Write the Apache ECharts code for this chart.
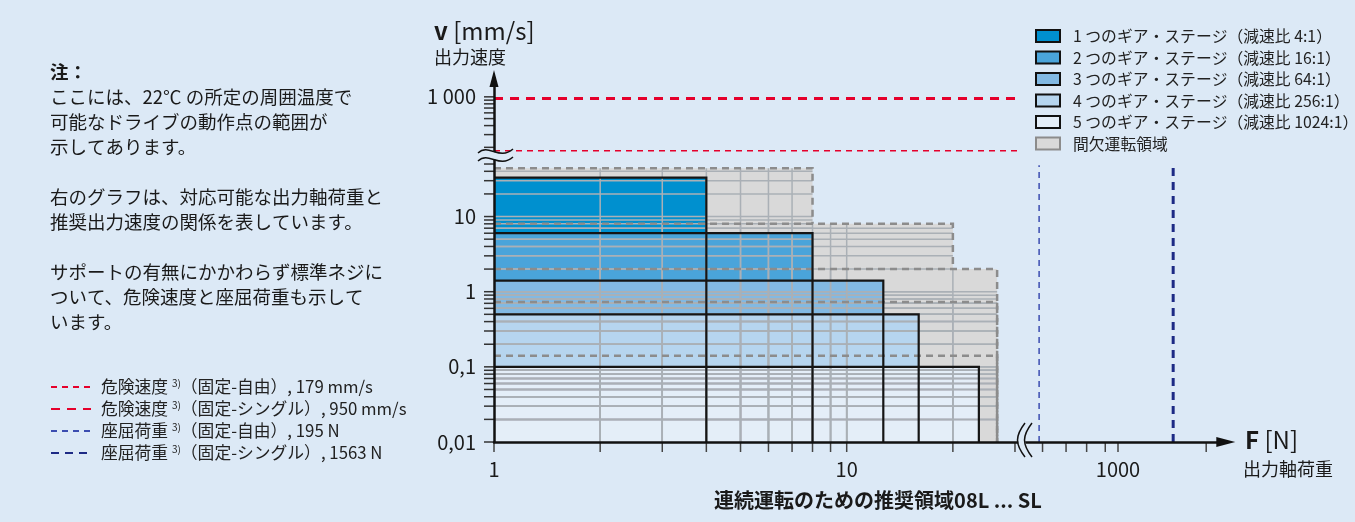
<!DOCTYPE html>
<html>
<head>
<meta charset="utf-8">
<script src="https://cdn.jsdelivr.net/npm/echarts@6/dist/echarts.min.js"></script>
<style>
  html, body { margin: 0; padding: 0; background: #dce9f6; }
  #chart { width: 1355px; height: 522px; }
</style>
</head>
<body>
<div id="chart"></div>
<script>
const FONT = "'Noto Sans CJK JP', 'Noto Sans', sans-serif";
const INK = '#1a1a1a';
const BG = '#dce9f6';

// ギア・ステージ
const stageNames = [
    '1 つのギア・ステージ（減速比 4:1）',
    '2 つのギア・ステージ（減速比 16:1）',
    '3 つのギア・ステージ（減速比 64:1）',
    '4 つのギア・ステージ（減速比 256:1）',
    '5 つのギア・ステージ（減速比 1024:1）'
];
const stageColors = ['#0090cf', '#4aa4da', '#82b9e3', '#b6d5ef', '#e4eef8'];
const intName = '間欠運転領域';

// 連続運転の推奨領域 (F [N], v [mm/s] の上限)
const contForce = [4, 8, 12.7, 16, 23.7];
const contSpeed = [33, 6, 1.4, 0.5, 0.1];
// 間欠運転領域の上限
const intForce = [8, 20, 26.7, 26.7, 26.7];
const intSpeed = [44, 8, 2, 0.73, 0.14];

// 危険速度 [mm/s] と座屈荷重 [N]
const critSpeed = [179, 950];
const buckleLoad = [195, 1563];

// 目盛
const yTicks = [0.01, 0.02, 0.03, 0.04, 0.05, 0.06, 0.07, 0.08, 0.09,
    0.1, 0.2, 0.3, 0.4, 0.5, 0.6, 0.7, 0.8, 0.9,
    1, 2, 3, 4, 5, 6, 7, 8, 9, 10, 20, 30, 40, 50];
const yTicksTop = [200, 300, 400, 500, 600, 700, 800, 900, 1000];
const xTicks = [1, 2, 3, 4, 5, 6, 7, 8, 9, 10, 20, 30];
const xTicksRight = [230, 470, 680, 870, 1000, 1900];
const yLabels = { '-2': '0,01', '-1': '0,1', '0': '1', '1': '10' };
const xLabels = { '0': '1', '1': '10' };

// 軸の範囲
const xMin = 1, xMax = 31;
const yMin = 0.01, yMax = 62;
const yTopMin = 147, yTopMax = 1800;
const xRightMax = 2100;
const buckleTop = 48;

const yGrid = yTicks.filter(v => v > yMin);
const xGrid = xTicks.filter(v => v > xMin);

function powLabel(map) {
    return function (v) {
        const e = Math.log10(v);
        if (Math.abs(e - Math.round(e)) > 1e-6) return '';
        return map[String(Math.round(e))] || '';
    };
}

const axisLineStyle = { color: '#111', width: 2.5 };
const labelStyle = { color: INK, fontSize: 20, fontFamily: FONT };

// 領域の塗り
function boxFrom(api, color) {
    const o = api.coord([xMin, yMin]);
    const c = api.coord([api.value(0), api.value(1)]);
    return {
        type: 'rect',
        shape: { x: o[0], y: c[1], width: c[0] - o[0], height: o[1] - c[1] },
        style: { fill: color }
    };
}

// 領域内の補助線
function renderGrid(params, api) {
    const F = api.value(0), V = api.value(1);
    const style = { stroke: '#aab0b6', lineWidth: 1.5 };
    const children = [];
    yGrid.forEach(v => {
        if (v < V) {
            const a = api.coord([xMin, v]), b = api.coord([F, v]);
            children.push({ type: 'line', shape: { x1: a[0], y1: a[1], x2: b[0], y2: b[1] }, style: style });
        }
    });
    xGrid.forEach(f => {
        if (f < F) {
            const a = api.coord([f, yMin]), b = api.coord([f, V]);
            children.push({ type: 'line', shape: { x1: a[0], y1: a[1], x2: b[0], y2: b[1] }, style: style });
        }
    });
    return { type: 'group', children: children };
}

// 間欠運転領域の破線の枠
function renderIntBorder(params, api) {
    const F = api.value(0), V = api.value(1);
    let low = yMin;
    intForce.forEach((f, j) => { if (f > F && intSpeed[j] > low) low = intSpeed[j]; });
    const a = api.coord([xMin, V]), b = api.coord([F, V]), c = api.coord([F, low]);
    return {
        type: 'polyline',
        shape: { points: [a, b, c] },
        style: { stroke: '#8c8c8c', lineWidth: 2.5, lineDash: [7, 5], fill: null }
    };
}

// 連続運転領域の枠
function renderContBorder(params, api) {
    const F = api.value(0), V = api.value(1);
    const a = api.coord([xMin, V]), b = api.coord([F, V]), c = api.coord([F, yMin]);
    return {
        type: 'polyline',
        shape: { points: [a, b, c] },
        style: { stroke: '#151515', lineWidth: 2.2, fill: null }
    };
}

function renderYTick(params, api) {
    const p = api.coord([api.value(0), api.value(1)]);
    return { type: 'line', shape: { x1: p[0] - 10, y1: p[1], x2: p[0], y2: p[1] }, style: { stroke: '#333', lineWidth: 1.5 } };
}
function renderXTick(params, api) {
    const p = api.coord([api.value(0), api.value(1)]);
    return { type: 'line', shape: { x1: p[0], y1: p[1], x2: p[0], y2: p[1] + 10 }, style: { stroke: '#444', lineWidth: 1.5 } };
}

const series = [];
series.push({
    name: intName, type: 'custom', xAxisIndex: 0, yAxisIndex: 0, z: 1, clip: false,
    itemStyle: { color: '#d9d9d9', borderColor: '#8c8c8c', borderWidth: 2, borderType: 'dashed' },
    data: intForce.map((f, i) => [f, intSpeed[i]]),
    renderItem: (params, api) => boxFrom(api, '#d9d9d9')
});
stageNames.forEach((n, i) => {
    series.push({
        name: n, type: 'custom', xAxisIndex: 0, yAxisIndex: 0, z: 2, clip: false,
        itemStyle: { color: stageColors[i], borderColor: '#111', borderWidth: 2 },
        data: [[contForce[i], contSpeed[i]]],
        renderItem: (params, api) => boxFrom(api, stageColors[i])
    });
});
series.push({
    type: 'custom', xAxisIndex: 0, yAxisIndex: 0, z: 3, clip: false, silent: true,
    data: intForce.map((f, i) => [f, intSpeed[i]]),
    renderItem: renderGrid
});
series.push({
    type: 'custom', xAxisIndex: 0, yAxisIndex: 0, z: 4, clip: false, silent: true,
    data: intForce.map((f, i) => [f, intSpeed[i]]),
    renderItem: renderIntBorder
});
series.push({
    type: 'custom', xAxisIndex: 0, yAxisIndex: 0, z: 5, clip: false, silent: true,
    data: contForce.map((f, i) => [f, contSpeed[i]]),
    renderItem: renderContBorder
});
// 目盛線
series.push({ type: 'custom', xAxisIndex: 0, yAxisIndex: 0, z: 6, clip: false, silent: true,
    data: yTicks.map(v => [xMin, v]), renderItem: renderYTick });
series.push({ type: 'custom', xAxisIndex: 1, yAxisIndex: 1, z: 6, clip: false, silent: true,
    data: yTicksTop.map(v => [xMin, v]), renderItem: renderYTick });
series.push({ type: 'custom', xAxisIndex: 0, yAxisIndex: 0, z: 6, clip: false, silent: true,
    data: xTicks.map(v => [v, yMin]), renderItem: renderXTick });
series.push({ type: 'custom', xAxisIndex: 2, yAxisIndex: 2, z: 6, clip: false, silent: true,
    data: xTicksRight.map(v => [v, yMin]), renderItem: renderXTick });

// 危険速度・座屈荷重
const lineNames = [
    `危険速度 3)（固定-自由）, ${critSpeed[0]} mm/s`,
    `危険速度 3)（固定-シングル）, ${critSpeed[1]} mm/s`,
    `座屈荷重 3)（固定-自由）, ${buckleLoad[0]} N`,
    `座屈荷重 3)（固定-シングル）, ${buckleLoad[1]} N`
];
const lineStyles = [
    { color: '#e5002b', width: 1.5, type: [6, 5] },
    { color: '#e5002b', width: 3, type: [9, 7] },
    { color: '#3b4cb0', width: 1.5, type: [6, 5] },
    { color: '#1d2a85', width: 3, type: [8, 6] }
];
critSpeed.forEach((v, i) => {
    series.push({
        name: lineNames[i], type: 'line', xAxisIndex: 1, yAxisIndex: 1, z: 6,
        symbol: 'none', silent: true, lineStyle: lineStyles[i], itemStyle: { color: lineStyles[i].color },
        data: [[xMin, v], [xMax, v]]
    });
});
buckleLoad.forEach((v, i) => {
    series.push({
        name: lineNames[i + 2], type: 'line', xAxisIndex: 2, yAxisIndex: 2, z: 6,
        symbol: 'none', silent: true, lineStyle: lineStyles[i + 2], itemStyle: { color: lineStyles[i + 2].color },
        data: [[v, yMin], [v, buckleTop]]
    });
});

const noteText = '{b|注：}\nここには、22℃ の所定の周囲温度で\n可能なドライブの動作点の範囲が\n示してあります。\n\n' +
    '右のグラフは、対応可能な出力軸荷重と\n推奨出力速度の関係を表しています。\n\n' +
    'サポートの有無にかかわらず標準ネジに\nついて、危険速度と座屈荷重も示して\nいます。';

function wave(x1, y1, cx1, cy1, cx2, cy2, x2, y2, stroke, w) {
    return {
        type: 'bezierCurve', z: 100, silent: true,
        shape: { x1: x1, y1: y1, cpx1: cx1, cpy1: cy1, cpx2: cx2, cpy2: cy2, x2: x2, y2: y2 },
        style: { stroke: stroke, lineWidth: w, fill: null }
    };
}

const option = {
    animation: false,
    backgroundColor: BG,
    textStyle: { fontFamily: FONT },
    grid: [
        { left: 494, top: 157, width: 526, height: 285, containLabel: false, outerBoundsMode: 'none' },
        { left: 494, top: 78.4, width: 526, height: 78.6, containLabel: false, outerBoundsMode: 'none' },
        { left: 1020, top: 157, width: 205.8, height: 285, containLabel: false, outerBoundsMode: 'none' }
    ],
    xAxis: [
        { type: 'log', gridIndex: 0, min: xMin, max: xMax, z: 10,
          splitLine: { show: false }, axisTick: { show: false },
          axisLine: { onZero: false, lineStyle: axisLineStyle },
          axisLabel: Object.assign({ margin: 17, formatter: powLabel(xLabels) }, labelStyle) },
        { type: 'log', gridIndex: 1, min: xMin, max: xMax, show: false },
        { type: 'value', gridIndex: 2, min: 0, max: xRightMax, interval: 500, z: 10,
          splitLine: { show: false }, axisTick: { show: false },
          axisLine: { onZero: false, lineStyle: axisLineStyle, symbol: ['none', 'triangle'], symbolSize: [10, 19] },
          axisLabel: Object.assign({ margin: 17, formatter: v => (v === 1000 ? '1000' : '') }, labelStyle) }
    ],
    yAxis: [
        { type: 'log', gridIndex: 0, min: yMin, max: yMax, z: 10,
          splitLine: { show: false }, axisTick: { show: false },
          axisLine: { onZero: false, lineStyle: axisLineStyle },
          axisLabel: Object.assign({ margin: 18, formatter: powLabel(yLabels) }, labelStyle) },
        { type: 'log', gridIndex: 1, min: yTopMin, max: yTopMax, z: 10,
          splitLine: { show: false }, axisTick: { show: false },
          axisLine: { onZero: false, lineStyle: axisLineStyle, symbol: ['none', 'triangle'], symbolSize: [9, 17] },
          axisLabel: Object.assign({ margin: 18, formatter: v => (Math.abs(v - 1000) < 1 ? '1 000' : '') }, labelStyle) },
        { type: 'log', gridIndex: 2, min: yMin, max: yMax, show: false }
    ],
    legend: [
        {
            data: stageNames.concat([intName]),
            orient: 'vertical', left: 1035, top: 28, padding: 0,
            icon: 'rect', itemWidth: 24, itemHeight: 12, itemGap: 5.5,
            selectedMode: false,
            textStyle: { color: '#222', fontSize: 15.8, lineHeight: 16, fontFamily: FONT, padding: [0, 0, 0, 8] }
        },
        {
            data: lineNames,
            orient: 'vertical', left: 50, top: 378, padding: 0,
            itemWidth: 40, itemHeight: 14, itemGap: 4,
            selectedMode: false,
            itemStyle: { color: 'rgba(0,0,0,0)', borderWidth: 0 },
            formatter: name => name.replace(' 3)', ' {s|3)}'),
            textStyle: {
                color: '#222', fontSize: 16.8, lineHeight: 18, fontFamily: FONT, padding: [0, 0, 0, 5],
                rich: { s: { fontSize: 10, lineHeight: 18, verticalAlign: 'top', fontFamily: FONT, color: '#222' } }
            }
        }
    ],
    graphic: [
        { type: 'text', x: 50, y: 59.5, z: 100, silent: true,
          style: { text: noteText, fill: INK, fontSize: 18.5, fontFamily: FONT, lineHeight: 25, verticalAlign: 'top',
                   rich: { b: { fontWeight: 'bold', fontSize: 18.5, fontFamily: FONT, lineHeight: 25, fill: INK } } } },
        { type: 'text', x: 434, y: 31, z: 100, silent: true,
          style: { text: '{b|v} [mm/s]', fill: INK, fontSize: 24, fontFamily: FONT, verticalAlign: 'middle',
                   rich: { b: { fontWeight: 'bold', fontSize: 24, fontFamily: FONT, fill: INK } } } },
        { type: 'text', x: 434, y: 57.5, z: 100, silent: true,
          style: { text: '出力速度', fill: INK, fontSize: 18, fontFamily: FONT, verticalAlign: 'middle' } },
        { type: 'text', x: 1245, y: 440, z: 100, silent: true,
          style: { text: '{b|F} [N]', fill: INK, fontSize: 24, fontFamily: FONT, verticalAlign: 'middle',
                   rich: { b: { fontWeight: 'bold', fontSize: 24, fontFamily: FONT, fill: INK } } } },
        { type: 'text', x: 1243, y: 469, z: 100, silent: true,
          style: { text: '出力軸荷重', fill: INK, fontSize: 18, fontFamily: FONT, verticalAlign: 'middle' } },
        { type: 'text', x: 878, y: 500, z: 100, silent: true,
          style: { text: '連続運転のための推奨領域08L ... SL', fill: INK, fontSize: 20, fontWeight: 'bold', fontFamily: FONT,
                   align: 'center', verticalAlign: 'middle' } },
        // 縦軸の省略記号
        wave(478, 157, 489, 147, 499, 165, 513, 153, BG, 7),
        wave(478, 153, 489, 143, 499, 161, 513, 149, '#111', 1.5),
        wave(478, 161, 489, 151, 499, 169, 513, 157, '#111', 1.5),
        // 横軸の省略記号
        wave(1029, 423, 1019, 436, 1019, 444, 1029, 457, BG, 7),
        wave(1025, 423, 1015, 436, 1015, 444, 1025, 457, '#111', 1.5),
        wave(1032, 423, 1022, 436, 1022, 444, 1032, 457, '#111', 1.5)
    ],
    series: series
};

const chart = echarts.init(document.getElementById('chart'));
chart.setOption(option);
</script>
</body>
</html>
